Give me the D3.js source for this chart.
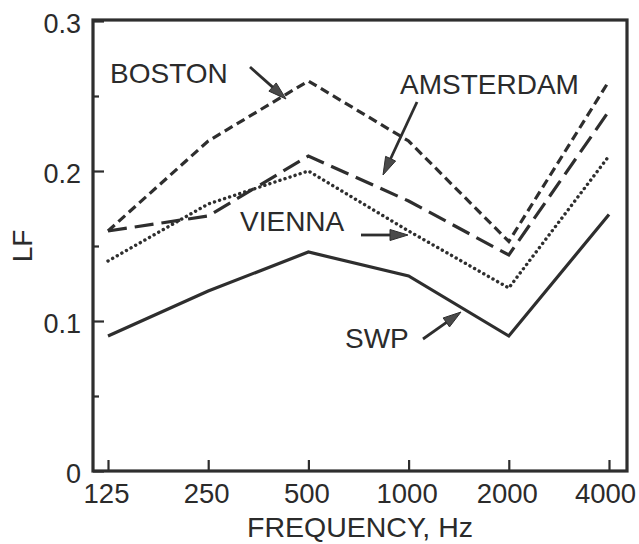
<!DOCTYPE html>
<html>
<head>
<meta charset="utf-8">
<script src="https://cdn.jsdelivr.net/npm/d3@7"></script>
<style>
  html, body { margin: 0; padding: 0; background: #fff; }
  svg { display: block; }
  text { font-family: "Liberation Sans", Arial, Helvetica, sans-serif; fill: #2b2b2b; }
</style>
</head>
<body>
<svg id="chart" width="639" height="544"></svg>
<script>
// ---- data ----
const frequencies = ["125", "250", "500", "1000", "2000", "4000"];
const boston    = [0.16, 0.22, 0.26, 0.22, 0.153, 0.26];
const amsterdam = [0.16, 0.17, 0.21, 0.18, 0.144, 0.24];
const vienna    = [0.14, 0.178, 0.20, 0.16, 0.122, 0.21];
const swp       = [0.09, 0.12, 0.146, 0.13, 0.09, 0.171];
const yMajorTicks = [0, 0.1, 0.2, 0.3];
const yMinorTicks = [0.05, 0.15, 0.25];
const seriesNames = ["BOSTON", "AMSTERDAM", "VIENNA", "SWP"];

// ---- layout ----
const frame = { left: 93, top: 20, right: 627, bottom: 471 };
const ink = "#2e2e2e";
const svg = d3.select("#chart");

const x = d3.scalePoint().domain(frequencies).range([108, 609]);
const y = d3.scaleLinear().domain([0, 0.3]).range([frame.bottom, frame.top + 1]);

// y axis (ticks pointing inward)
const yAxis = svg.append("g")
  .attr("transform", `translate(${frame.left},0)`)
  .call(d3.axisLeft(y).tickValues(yMajorTicks).tickSize(-11).tickPadding(12)
        .tickFormat(d => d === 0 ? "0" : d3.format(".1f")(d)));
yAxis.select(".domain").remove();
yAxis.selectAll("line").attr("stroke", ink).attr("stroke-width", 2.2);
yAxis.selectAll("text").style("font-size", "27px").attr("dy", "0.42em").attr("fill", ink);

const yMinor = svg.append("g")
  .attr("transform", `translate(${frame.left},0)`)
  .call(d3.axisLeft(y).tickValues(yMinorTicks).tickSize(-6).tickFormat(""));
yMinor.select(".domain").remove();
yMinor.selectAll("line").attr("stroke", ink).attr("stroke-width", 2.2);

// x axis (ticks pointing inward)
const xAxis = svg.append("g")
  .attr("transform", `translate(0,${frame.bottom})`)
  .call(d3.axisBottom(x).tickSize(-11).tickPadding(12));
xAxis.select(".domain").remove();
xAxis.selectAll("line").attr("stroke", ink).attr("stroke-width", 2.2);
xAxis.selectAll("text").style("font-size", "27.5px").attr("dy", "0.72em")
  .attr("dx", d => d === "4000" ? -4 : -2).attr("fill", ink);

// frame
svg.append("rect")
  .attr("x", frame.left).attr("y", frame.top)
  .attr("width", frame.right - frame.left).attr("height", frame.bottom - frame.top)
  .attr("fill", "none").attr("stroke", ink).attr("stroke-width", 3.2);

// axis titles
svg.append("text")
  .attr("x", 360).attr("y", 537)
  .attr("text-anchor", "middle")
  .style("font-size", "28.5px")
  .text("FREQUENCY, Hz");

svg.append("text")
  .attr("transform", "translate(32,246) rotate(-90)")
  .attr("text-anchor", "middle")
  .style("font-size", "28px")
  .text("LF");

// series lines
const series = [
  { name: seriesNames[0], values: boston,    dash: "9,5",   cap: "butt",  width: 3.2 },
  { name: seriesNames[1], values: amsterdam, dash: "19,8",  cap: "butt",  width: 3.2 },
  { name: seriesNames[2], values: vienna,    dash: "0.1,5.2", cap: "round", width: 3.4 },
  { name: seriesNames[3], values: swp,       dash: null,    cap: "butt",  width: 3.2 }
];

const line = d3.line()
  .x((d, i) => x(frequencies[i]))
  .y(d => y(d));

svg.append("g").selectAll("path")
  .data(series)
  .join("path")
  .attr("d", d => line(d.values))
  .attr("fill", "none")
  .attr("stroke", ink)
  .attr("stroke-width", d => d.width)
  .attr("stroke-linecap", d => d.cap)
  .attr("stroke-linejoin", "miter")
  .attr("stroke-dasharray", d => d.dash);

// annotations: label + arrow
const annotations = [
  { text: seriesNames[0], tx: 110, ty: 83, from: [250, 67], to: [286, 99] },
  { text: seriesNames[1], tx: 400, ty: 94, from: [417, 102], to: [383, 175] },
  { text: seriesNames[2], tx: 240, ty: 231, from: [361, 235], to: [408, 235] },
  { text: seriesNames[3], tx: 345, ty: 348, from: [423, 339], to: [461, 312] }
];

const ann = svg.append("g");
annotations.forEach(a => {
  ann.append("text")
    .attr("x", a.tx).attr("y", a.ty)
    .style("font-size", "28px")
    .text(a.text);
  const [x0, y0] = a.from, [x1, y1] = a.to;
  const dx = x1 - x0, dy = y1 - y0, len = Math.hypot(dx, dy);
  const ux = dx / len, uy = dy / len;
  const headLen = 18, headW = 5.5;
  const bx = x1 - ux * headLen, by = y1 - uy * headLen;
  ann.append("line")
    .attr("x1", x0).attr("y1", y0).attr("x2", bx + ux * 2).attr("y2", by + uy * 2)
    .attr("stroke", ink).attr("stroke-width", 2.8);
  ann.append("path")
    .attr("d", `M${x1},${y1}L${bx - uy * headW},${by + ux * headW}L${bx + uy * headW},${by - ux * headW}Z`)
    .attr("fill", "#4a4a4a").attr("stroke", ink).attr("stroke-width", 1);
});
</script>
</body>
</html>
